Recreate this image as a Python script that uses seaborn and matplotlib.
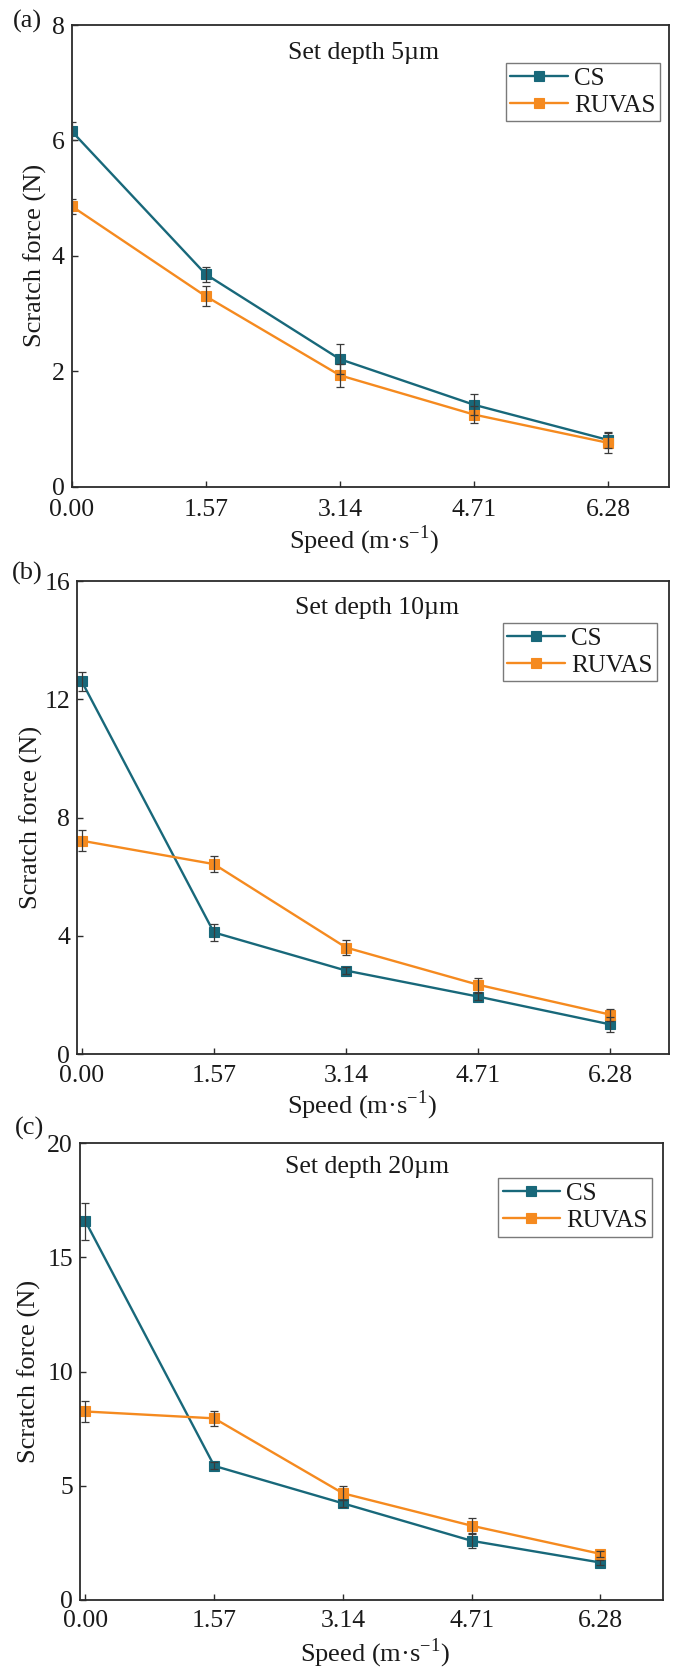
import matplotlib
matplotlib.use("Agg")
import matplotlib.pyplot as plt
import pandas as pd
import seaborn as sns

# ---- data -------------------------------------------------------------
speed = [0.00, 1.57, 3.14, 4.71, 6.28]
speed_labels = ["0.00", "1.57", "3.14", "4.71", "6.28"]
methods = ["CS", "RUVAS"]

# set depth 5 um
cs_5 = [6.16, 3.68, 2.21, 1.42, 0.81]
cs_5_err = [0.16, 0.13, 0.26, 0.18, 0.14]
ruvas_5 = [4.86, 3.30, 1.93, 1.25, 0.76]
ruvas_5_err = [0.13, 0.17, 0.20, 0.14, 0.17]

# set depth 10 um
cs_10 = [12.61, 4.12, 2.83, 1.95, 1.01]
cs_10_err = [0.33, 0.30, 0.12, 0.12, 0.26]
ruvas_10 = [7.22, 6.43, 3.61, 2.35, 1.34]
ruvas_10_err = [0.35, 0.27, 0.26, 0.23, 0.20]

# set depth 20 um
cs_20 = [16.57, 5.87, 4.23, 2.59, 1.64]
cs_20_err = [0.82, 0.15, 0.15, 0.30, 0.12]
ruvas_20 = [8.25, 7.95, 4.67, 3.25, 2.02]
ruvas_20_err = [0.44, 0.33, 0.30, 0.33, 0.12]

titles = ["Set depth 5\u00b5m", "Set depth 10\u00b5m", "Set depth 20\u00b5m"]
panel_tags = ["(a)", "(b)", "(c)"]
y_ticks = [[0, 2, 4, 6, 8], [0, 4, 8, 12, 16], [0, 5, 10, 15, 20]]

# ---- style ------------------------------------------------------------
sns.set_theme(style="white")
plt.rcParams["font.family"] = ["Liberation Serif", "DejaVu Serif"]
plt.rcParams["mathtext.fontset"] = "custom"
plt.rcParams["mathtext.rm"] = "Liberation Serif"

colors = {"CS": "#18687a", "RUVAS": "#f58a1f"}
spine_color = "#2b2b2b"
text_color = "#1a1a1a"

W, H = 676, 1670
fig = plt.figure(figsize=(W / 100, H / 100), dpi=100)

# axes boxes in pixels: left, right, top, bottom
boxes = [
    (71.7, 668.7, 25.0, 486.7),
    (77.0, 669.3, 581.0, 1054.3),
    (80.0, 662.7, 1143.0, 1600.0),
]
xlims = [(0.0, 6.99), (-0.056, 6.98), (-0.067, 7.04)]
legend_anchor = [(0.985, 0.918), (0.979, 0.912), (0.982, 0.923)]
title_pos = [(0.488, 0.939), (0.506, 0.944), (0.492, 0.947)]
ylabel_x = [-0.041, -0.057, -0.067]
xlabel_pos = [(0.49, -0.079), (0.481, -0.073), (0.506, -0.080)]
xtick_pad = [8.5, 8.0, 7.0]
tag_pos = [(13, 21), (12, 573), (15, 1128)]

series = [
    (cs_5, cs_5_err, ruvas_5, ruvas_5_err),
    (cs_10, cs_10_err, ruvas_10, ruvas_10_err),
    (cs_20, cs_20_err, ruvas_20, ruvas_20_err),
]

for i, (box, (cs, cs_e, ru, ru_e)) in enumerate(zip(boxes, series)):
    l, r, t, b = box
    ax = fig.add_axes([l / W, 1 - b / H, (r - l) / W, (b - t) / H])

    df = pd.DataFrame({
        "speed": speed * 2,
        "force": cs + ru,
        "err": cs_e + ru_e,
        "method": ["CS"] * len(speed) + ["RUVAS"] * len(speed),
    })

    for m in methods:
        sub = df[df["method"] == m]
        ax.errorbar(sub["speed"], sub["force"], yerr=sub["err"], fmt="none",
                    ecolor="#3a3a3a", elinewidth=0.9, capsize=3.2,
                    capthick=0.9, zorder=3)
        sns.lineplot(data=sub, x="speed", y="force", ax=ax, color=colors[m],
                     marker="s", markersize=6.8, markeredgewidth=0.8,
                     markeredgecolor=colors[m], linewidth=1.7, label=m,
                     zorder=2, errorbar=None)

    ax.set_xlim(*xlims[i])
    ax.set_ylim(y_ticks[i][0], y_ticks[i][-1])
    ax.set_xticks(speed)
    ax.set_xticklabels(speed_labels)
    ax.set_yticks(y_ticks[i])
    ax.set_yticklabels([str(v) for v in y_ticks[i]])

    ax.tick_params(axis="both", which="major", direction="in", length=4.5,
                   width=1.0, color=spine_color, labelsize=18.5,
                   labelcolor=text_color, top=False, right=False,
                   bottom=True, left=True)
    ax.tick_params(axis="x", pad=xtick_pad[i])
    ax.tick_params(axis="y", pad=5)

    for s in ax.spines.values():
        s.set_color(spine_color)
        s.set_linewidth(1.3)

    ax.set_xlabel("Speed (m\u00b7s$^{\\mathregular{-1}}$)", fontsize=19,
                  color=text_color)
    ax.xaxis.set_label_coords(*xlabel_pos[i])
    ax.xaxis.label.set_va("top")
    ax.set_ylabel("Scratch force (N)", fontsize=19, color=text_color)
    ax.yaxis.set_label_coords(ylabel_x[i], 0.5)

    ax.text(title_pos[i][0], title_pos[i][1], titles[i], transform=ax.transAxes,
            ha="center", va="center", fontsize=18.5, color=text_color)

    leg = ax.legend(loc="upper right", bbox_to_anchor=legend_anchor[i],
                    borderaxespad=0, fontsize=18, frameon=True,
                    fancybox=False, framealpha=1, edgecolor="#7a7a7a",
                    handlelength=2.3, handletextpad=0.25, borderpad=0.18,
                    labelspacing=0.18)
    leg.get_frame().set_linewidth(1.0)
    for txt in leg.get_texts():
        txt.set_color(text_color)

    fig.text(tag_pos[i][0] / W, 1 - tag_pos[i][1] / H, panel_tags[i],
             ha="left", va="center", fontsize=19, color=text_color)

fig.savefig("out.png", dpi=100)
